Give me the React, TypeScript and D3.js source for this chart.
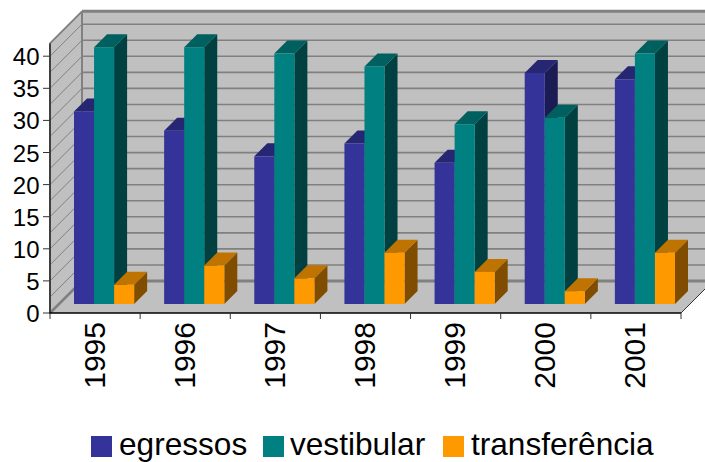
import React from "react";
import * as d3 from "d3";

const categories = ["1995", "1996", "1997", "1998", "1999", "2000", "2001"];
const seriesNames = ["egressos", "vestibular", "transferência"];
const egressos = [30, 27, 23, 25, 22, 36, 35];
const vestibular = [40, 40, 39, 37, 28, 29, 39];
const transferencia = [3, 6, 4, 8, 5, 2, 8];
const seriesValues = [egressos, vestibular, transferencia];
const tickValues = [0, 5, 10, 15, 20, 25, 30, 35, 40];
const gridValues = d3.range(2.5, 42, 2.5);
const frontColors = ["#333399", "#008080", "#FF9900"];
const topColors = ["#262673", "#006060", "#BF7300"];
const sideColors = ["#1C1C55", "#004040", "#804D00"];

const W = 705, H = 462;
const x0 = 50, x1 = 681, yBase = 313;
const wallD = 32, barD0 = 9, barD = 13;
const yMax = 42;

const y = d3.scaleLinear().domain([0, yMax]).range([yBase, yBase - 6.42 * yMax]);
const xCat = d3.scaleBand<string>().domain(categories).range([x0, x1]);
const xSeries = d3.scaleBand<string>().domain(seriesNames).range([15, xCat.bandwidth() - 15]);

const pts = (a: [number, number][]) => a.map((p) => p.join(",")).join(" ");
const font = "'Liberation Sans', Arial, sans-serif";

export default function App() {
  const bars = categories.flatMap((c, ci) =>
    seriesNames.map((s, si) => {
      const left = xCat(c)! + xSeries(s)! + barD0;
      const w = xSeries.bandwidth();
      const bot = y(0) - barD0;
      const top = y(seriesValues[si][ci]) - barD0;
      return (
        <g key={c + s}>
          <polygon fill={sideColors[si]} points={pts([[left + w, top], [left + w + barD, top - barD], [left + w + barD, bot - barD], [left + w, bot]])} />
          <polygon fill={topColors[si]} points={pts([[left, top], [left + barD, top - barD], [left + w + barD, top - barD], [left + w, top]])} />
          <rect x={left} y={top} width={w} height={bot - top} fill={frontColors[si]} />
        </g>
      );
    })
  );

  const top = y(yMax);
  const legend = [
    { sx: 91, tx: 119 },
    { sx: 263, tx: 290 },
    { sx: 443, tx: 471 },
  ];

  return (
    <svg width={W} height={H} style={{ position: "absolute", left: 0, top: 0, background: "#fff" }}>
      {/* back wall */}
      <polygon fill="#C0C0C0" points={pts([[x0 + wallD, top - wallD], [x1 + wallD, top - wallD], [x1 + wallD, yBase - wallD], [x0 + wallD, yBase - wallD]])} />
      {/* left wall */}
      <polygon fill="#C0C0C0" points={pts([[x0, top], [x0 + wallD, top - wallD], [x0 + wallD, yBase - wallD], [x0, yBase]])} />
      {/* floor */}
      <polygon fill="#C0C0C0" points={pts([[x0, yBase], [x0 + wallD, yBase - wallD], [x1 + wallD, yBase - wallD], [x1, yBase]])} />
      {gridValues.map((v) => (
        <g key={v} stroke="#808080" fill="none">
          <line x1={x0 + wallD} x2={x1 + wallD} y1={y(v) - wallD} y2={y(v) - wallD} strokeWidth={1.6} />
          <line x1={x0} x2={x0 + wallD} y1={y(v)} y2={y(v) - wallD} strokeWidth={1} />
        </g>
      ))}
      {/* wall edges */}
      <g stroke="#808080" strokeWidth={3} fill="none">
        <line x1={x0 + wallD} x2={x1 + wallD} y1={top - wallD} y2={top - wallD} />
        <line x1={x0 + wallD} x2={x0 + wallD} y1={top - wallD} y2={yBase - wallD} strokeWidth={2} />
        <line x1={x0} x2={x0 + wallD} y1={top} y2={top - wallD} strokeWidth={2} />
        <line x1={x0} x2={x0 + wallD} y1={yBase} y2={yBase - wallD} strokeWidth={2.5} />
        <line x1={x0 + wallD} x2={x1 + wallD} y1={yBase - wallD} y2={yBase - wallD} />
      </g>
      <line x1={x1} x2={x1 + wallD} y1={yBase} y2={yBase - wallD} stroke="#333" strokeWidth={1} />
      {bars}
      {/* axes */}
      <line x1={x0} x2={x0} y1={top} y2={yBase} stroke="#404040" strokeWidth={2} />
      <line x1={x0 - 1} x2={x1} y1={yBase} y2={yBase} stroke="#000" strokeWidth={1.6} />
      {tickValues.map((v) => (
        <g key={v}>
          <line x1={x0 - 7} x2={x0} y1={y(v)} y2={y(v)} stroke="#333" strokeWidth={1} />
          <text x={39.5} y={y(v) + 9} textAnchor="end" fontFamily={font} fontSize={24} fill="#000">{v}</text>
        </g>
      ))}
      {categories.map((c) => (
        <line key={c} x1={xCat(c)!} x2={xCat(c)!} y1={yBase} y2={yBase + 6} stroke="#333" strokeWidth={1} />
      ))}
      <line x1={x1} x2={x1} y1={yBase} y2={yBase + 6} stroke="#333" strokeWidth={1} />
      {categories.map((c) => {
        const cx = xCat(c)! + xCat.bandwidth() / 2 + 9.5;
        return (
          <text key={c} transform={`translate(${cx},322) rotate(-90)`} textAnchor="end" fontFamily={font} fontSize={30} fill="#000">{c}</text>
        );
      })}
      {seriesNames.map((s, i) => (
        <g key={s}>
          <rect x={legend[i].sx} y={436} width={21} height={21} fill={frontColors[i]} />
          <text x={legend[i].tx} y={455} fontFamily={font} fontSize={31.6} fill="#000">{s}</text>
        </g>
      ))}
    </svg>
  );
}
